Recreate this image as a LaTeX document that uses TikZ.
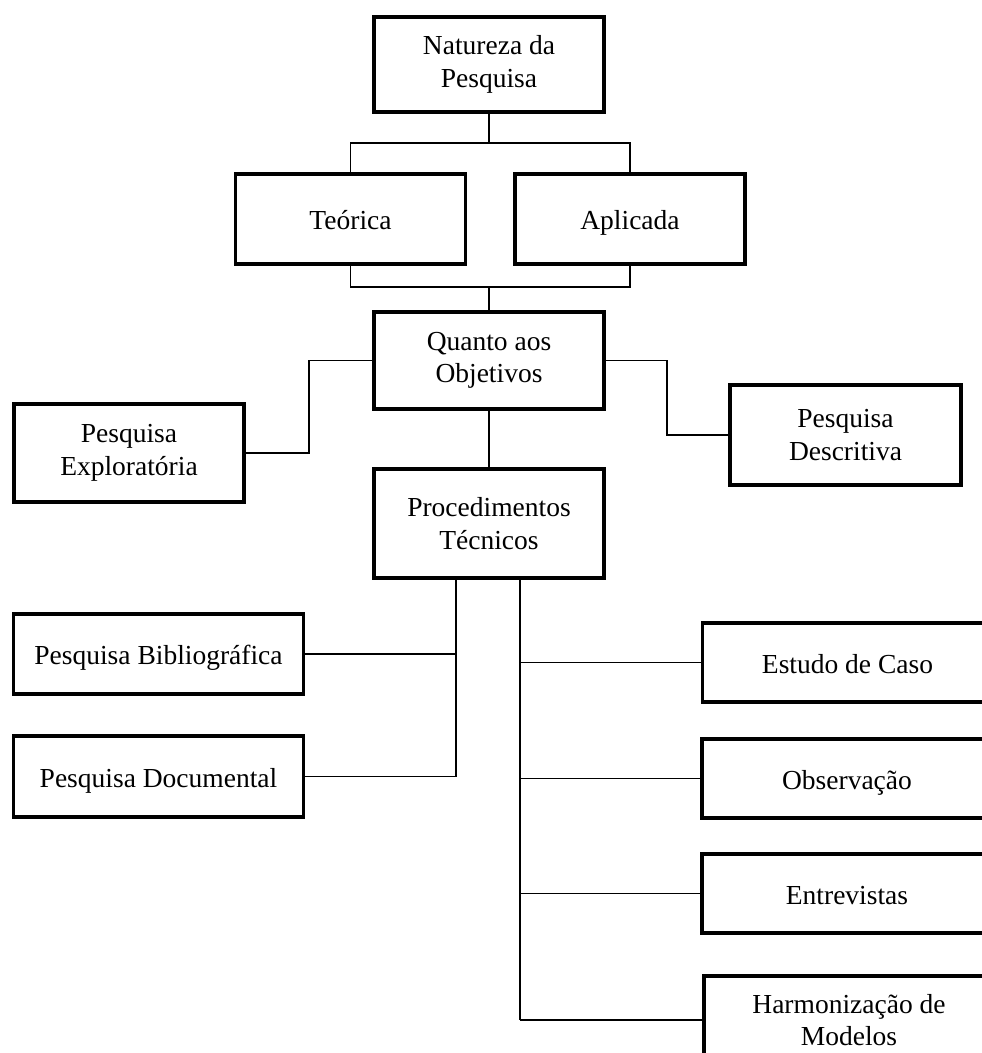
\documentclass[tikz,border=0pt]{standalone}
\usepackage{fontspec}
\setmainfont{Liberation Serif}
\usetikzlibrary{positioning}

\begin{document}
\begin{tikzpicture}[
  x=1pt, y=-1pt,
  every node/.style={font=\fontsize{27.5}{32.5}\selectfont, align=center},
  caixa/.style={draw, line width=3.8pt, inner sep=0pt, minimum width=230pt},
  larga/.style={caixa, minimum width=290pt},
  linha/.style={text height=25pt, text depth=4pt},
  ligacao/.style={line width=1.8pt}
]
\useasboundingbox (0,0) rectangle (982,1053);

% topo:
\node [caixa, minimum height=95pt] (natureza) at (489,64.5) {Natureza da\\Pesquisa};
\node [caixa, linha, minimum height=90pt] (teorica) at (350.5,219) {Teórica};
\node [caixa, linha, minimum height=90pt] (aplicada) at (630,219) {Aplicada};

% objetivos e procedimentos:
\node [caixa, minimum height=97pt] (quanto) at (489,360.5) {Quanto aos\\Objetivos};
\node [caixa, minimum height=98pt] (explor) at (129,453) {Pesquisa\\Exploratória};
\node [caixa, minimum height=100pt, minimum width=231pt] (descr) at (845.5,435) {Pesquisa\\Descritiva};
\node [caixa, minimum height=109pt] (proc) at (489,523.5) {Procedimentos\\Técnicos};

\node [larga, linha, minimum height=80pt] (biblio) at (158.5,654) {Pesquisa Bibliográfica};
\node [larga, linha, minimum height=81pt] (docum) at (158.5,776.5) {Pesquisa Documental};

\node [larga, linha, minimum height=79pt] (estudo) at (847.5,662.5) {Estudo de Caso};
\node [larga, linha, minimum height=79pt] (obs) at (847,778.5) {Observação};
\node [larga, linha, minimum height=79pt] (entrev) at (847,893.5) {Entrevistas};
\node [larga, minimum height=88pt] (harm) at (849,1020) {Harmonização de\\Modelos};

% barras e ramos:
\coordinate (barra1) at (0,143);
\coordinate (barra2) at (0,287);
\coordinate (ramo) at (456,0);
\coordinate (tronco) at (520,0);

\draw [ligacao] (natureza.south) -- (natureza.south |- barra1);
\draw [ligacao] (teorica.north) |- (barra1 -| aplicada.north) -- (aplicada.north);
\draw [ligacao] (teorica.south) |- (barra2 -| aplicada.south) -- (aplicada.south);
\draw [ligacao] (quanto.north) -- (quanto.north |- barra2);

\draw [ligacao] (quanto.west) -- ++(-63,0) |- (explor.east);
\draw [ligacao] (quanto.east) -- ++(61,0) |- (descr.west);
\draw [ligacao] (quanto.south) -- (proc.north);

\draw [ligacao] (proc.south -| ramo) |- (docum.east);
\draw [ligacao] (biblio.east) -- (biblio.east -| ramo);

\draw [ligacao] (proc.south -| tronco) -- (harm.west -| tronco);
\foreach \n in {estudo,obs,entrev,harm} {
  \draw [ligacao] (\n.west) -- (\n.west -| tronco);
}

\end{tikzpicture}
\end{document}
